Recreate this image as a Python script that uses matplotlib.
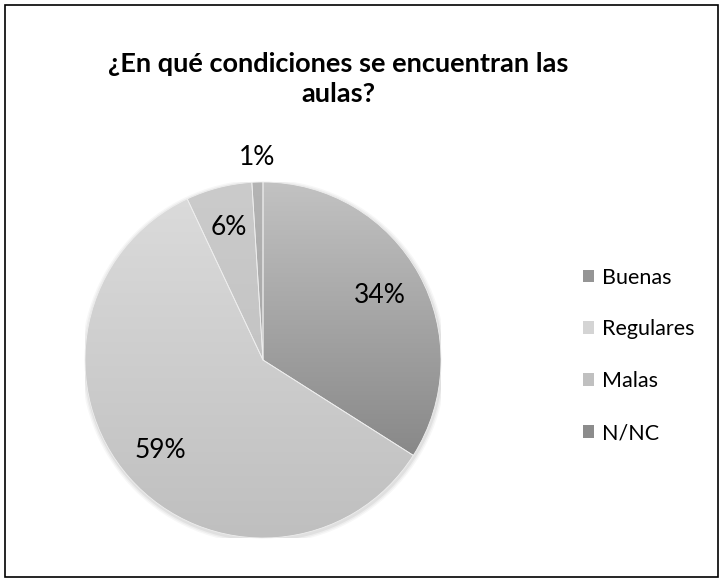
import numpy as np
import matplotlib
matplotlib.use("Agg")
import matplotlib.pyplot as plt
from matplotlib.patches import Patch, Rectangle

categories = ["Buenas", "Regulares", "Malas", "N/NC"]
values = [34, 59, 6, 1]
title = "¿En qué condiciones se encuentran las\naulas?"

# gradient colours (top, bottom) for each slice
grad_top = ["#c2c2c2", "#dcdcdc", "#cbcbcb", "#b4b4b4"]
grad_bot = ["#777777", "#bfbfbf", "#bdbdbd", "#9a9a9a"]
legend_colors = ["#959595", "#d4d4d4", "#c0c0c0", "#8c8c8c"]

plt.rcParams['font.family'] = ['Lato', 'DejaVu Sans']

W, H = 728, 581
fig = plt.figure(figsize=(W / 100, H / 100), dpi=100)

# outer frame
fig.patches.append(Rectangle((5 / W, 4 / H), 713 / W, 572 / H, transform=fig.transFigure,
                             fill=False, edgecolor="black", linewidth=1.2))

cx, cy, R = 263, 360, 178
ax = fig.add_axes([(cx - R) / W, (H - cy - R) / H, 2 * R / W, 2 * R / H])

wedges, _ = ax.pie(values, startangle=90, counterclock=False, radius=1,
                   wedgeprops=dict(edgecolor="#eeeeee", linewidth=0.6))

# soft shadow
for k, a in enumerate([0.05, 0.04, 0.03]):
    ax.add_patch(plt.Circle((0.004, -0.01), 1.0 + 0.008 * (k + 1), color="#000000",
                            alpha=a, zorder=0, linewidth=0))

for w, ct, cb in zip(wedges, grad_top, grad_bot):
    c1 = np.array(matplotlib.colors.to_rgb(ct))
    c2 = np.array(matplotlib.colors.to_rgb(cb))
    t = np.linspace(0, 1, 256)[:, None]
    img = (c1[None, :] * (1 - t) + c2[None, :] * t)[:, None, :]
    img = np.repeat(img, 2, axis=1)
    im = ax.imshow(img, extent=[-1, 1, -1, 1], origin="upper", aspect="auto",
                   zorder=w.get_zorder() + 0.1, interpolation="bilinear")
    im.set_clip_path(w)
    w.set_facecolor("none")
    w.set_zorder(w.get_zorder() + 0.2)

# percentage labels
dist = [0.75, 0.77, 0.77, 1.14]
for w, v, d in zip(wedges, values, dist):
    ang = np.deg2rad((w.theta1 + w.theta2) / 2)
    ax.text(d * np.cos(ang), d * np.sin(ang), f"{v}%", ha="center", va="center",
            fontsize=19, color="black", zorder=10)

ax.set_xlim(-1, 1)
ax.set_ylim(-1, 1)
ax.set_aspect("equal")
ax.axis("off")

fig.text(338 / W, 1 - 79 / H, title, ha="center", va="center", fontsize=19.5,
         fontweight="bold", linespacing=1.25)

handles = [Patch(facecolor=c, edgecolor="none") for c in legend_colors]
fig.legend(handles, categories, loc="upper left",
           bbox_to_anchor=(574 / W, 1 - 259 / H), frameon=False, fontsize=15.5,
           handlelength=0.55, handleheight=0.55, handletextpad=0.35, labelspacing=1.48,
           borderaxespad=0)

fig.savefig("out.png", dpi=100, facecolor="white")
